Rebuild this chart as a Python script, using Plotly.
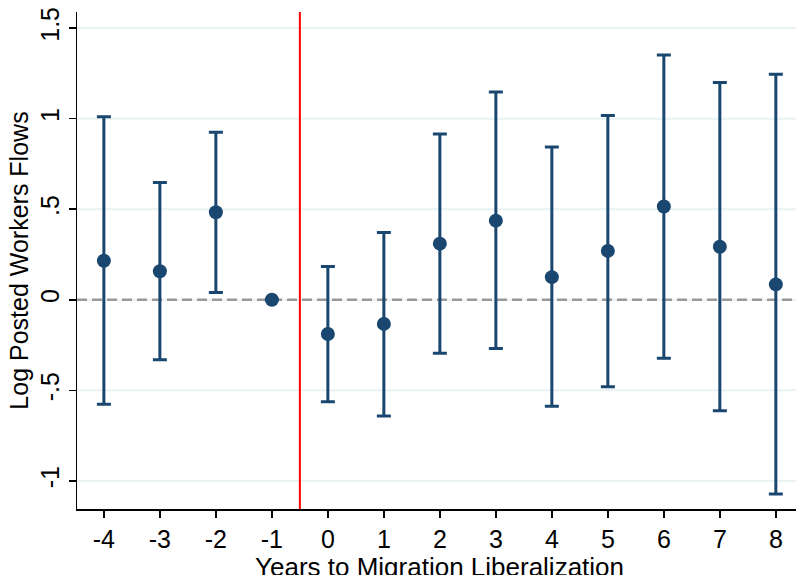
import plotly.graph_objects as go

years = [-4, -3, -2, -1, 0, 1, 2, 3, 4, 5, 6, 7, 8]
coef = [0.216, 0.158, 0.483, 0.0, -0.189, -0.133, 0.310, 0.437, 0.125, 0.270, 0.515, 0.293, 0.085]
ci_upper = [1.010, 0.648, 0.925, None, 0.184, 0.371, 0.915, 1.147, 0.843, 1.017, 1.352, 1.200, 1.245]
ci_lower = [-0.576, -0.331, 0.040, None, -0.563, -0.642, -0.295, -0.269, -0.588, -0.480, -0.323, -0.613, -1.072]

ytick_vals = [-1, -0.5, 0, 0.5, 1, 1.5]
ytick_text = ["-1", "-.5", "0", ".5", "1", "1.5"]

x_title = "Years to Migration Liberalization"
y_title = "Log Posted Workers Flows"

err_plus = [None if u is None else u - c for u, c in zip(ci_upper, coef)]
err_minus = [None if l is None else c - l for l, c in zip(ci_lower, coef)]

navy = "#1a476f"
font = "Liberation Sans, Arial, Helvetica, sans-serif"

fig = go.Figure()
# light horizontal gridlines at the y ticks
for v in ytick_vals:
    fig.add_shape(type="line", xref="paper", yref="y", x0=0, x1=1, y0=v, y1=v,
                  line=dict(color="#eaf2f3", width=2), layer="below")
# dashed zero reference line
fig.add_shape(type="line", xref="paper", yref="y", x0=0, x1=1, y0=0, y1=0,
              line=dict(color="#999999", width=2.5, dash="10px,5px"), layer="below")
# treatment line
fig.add_shape(type="line", xref="x", yref="paper", x0=-0.5, x1=-0.5, y0=0, y1=1,
              line=dict(color="#ff0000", width=2), layer="below")

fig.add_trace(go.Scatter(
    x=years, y=coef, mode="markers",
    marker=dict(color=navy, size=14),
    error_y=dict(type="data", symmetric=False, array=err_plus, arrayminus=err_minus,
                 color=navy, thickness=3, width=7),
    showlegend=False,
))

fig.add_annotation(text=x_title, xref="paper", yref="paper", x=0.5, y=0,
                   xanchor="center", yanchor="top", xshift=3, yshift=-41,
                   showarrow=False, font=dict(size=26, color="black", family=font))

fig.update_layout(
    width=796, height=575,
    margin=dict(l=77, r=0, t=12, b=66),
    paper_bgcolor="white", plot_bgcolor="white",
    font=dict(family=font, color="black", size=25),
    xaxis=dict(
        range=[-4.48, 8.36], tickvals=years, ticktext=[str(v) for v in years],
        showgrid=False, zeroline=False, showline=True, linecolor="black", linewidth=1.5,
        ticks="outside", ticklen=7, tickwidth=1.5, tickcolor="black",
        tickfont=dict(size=25), automargin=False,
    ),
    yaxis=dict(
        range=[-1.155, 1.589], tickvals=ytick_vals, ticktext=ytick_text, tickangle=-90,
        showgrid=False, zeroline=False,
        showline=True, linecolor="black", linewidth=1.5,
        ticks="outside", ticklen=7, tickwidth=1.5, tickcolor="black",
        tickfont=dict(size=25), automargin=False,
        title=dict(text=y_title, font=dict(size=25), standoff=0),
    ),
)

fig.write_html(
    "out.html",
    config={"displayModeBar": False, "staticPlot": True},
    post_script="document.body.style.margin='0';document.body.style.overflow='hidden';",
)
